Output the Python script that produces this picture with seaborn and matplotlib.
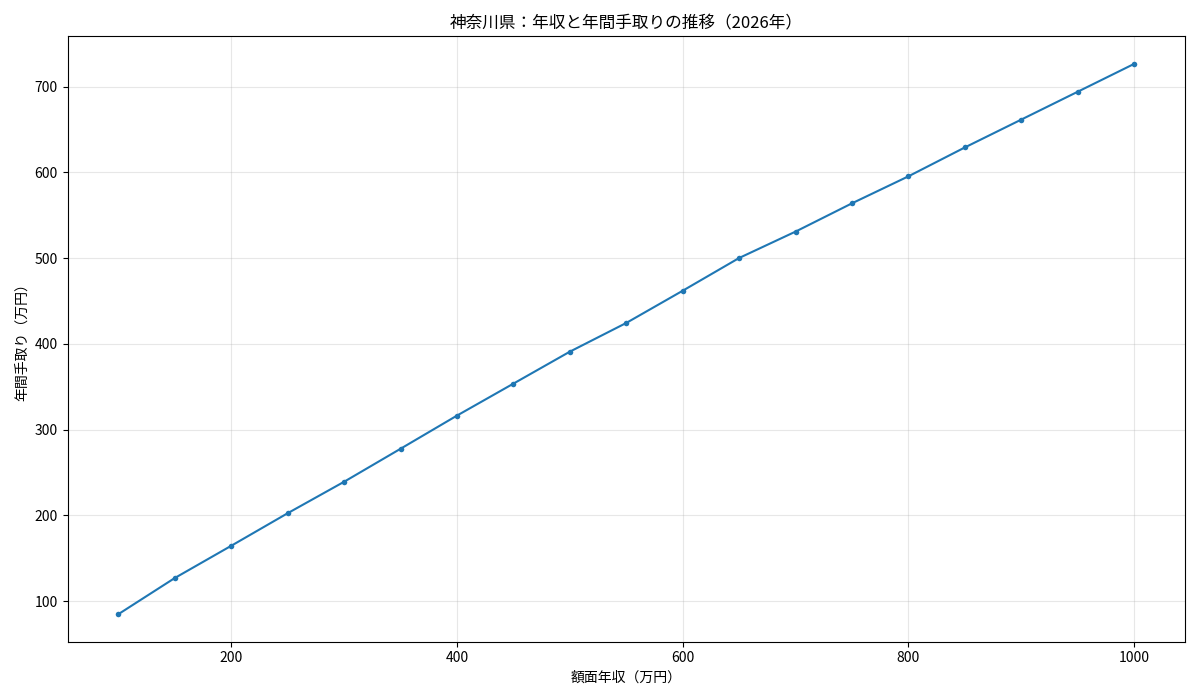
import matplotlib
matplotlib.use("Agg")
import matplotlib.pyplot as plt
import seaborn as sns
import pandas as pd

gross_income = [100, 150, 200, 250, 300, 350, 400, 450, 500, 550,
                600, 650, 700, 750, 800, 850, 900, 950, 1000]
take_home = [84.6, 126.8, 164.4, 202.4, 239.1, 277.6, 316.3, 353.6, 390.9, 424.4,
             462.0, 500.2, 531.0, 564.0, 595.5, 629.2, 661.7, 694.2, 726.7]

title = "神奈川県：年収と年間手取りの推移（2026年）"
xlabel = "額面年収（万円）"
ylabel = "年間手取り（万円）"

plt.rcParams['font.family'] = ['Noto Sans CJK JP', 'DejaVu Sans']

df = pd.DataFrame({"gross": gross_income, "net": take_home})

fig, ax = plt.subplots(figsize=(12, 7), dpi=100)
sns.lineplot(data=df, x="gross", y="net", marker="o", markersize=4,
             markeredgewidth=0, color="#1f77b4", linewidth=1.5, ax=ax)
ax.set_title(title, fontsize=12)
ax.set_xlabel(xlabel, fontsize=10)
ax.set_ylabel(ylabel, fontsize=10)
ax.grid(True, alpha=0.3)
fig.tight_layout()
fig.savefig("out.png", dpi=100)
